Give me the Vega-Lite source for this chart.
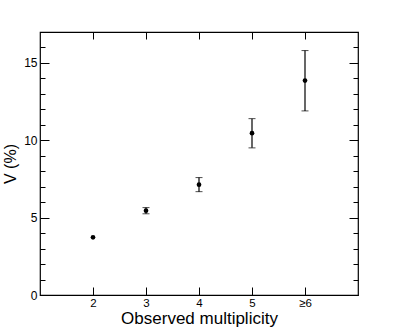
{
  "$schema": "https://vega.github.io/schema/vega-lite/v6.json",
  "width": 318,
  "height": 263,
  "autosize": "none",
  "padding": {"left": 40, "top": 32, "right": 41, "bottom": 33},
  "background": "white",
  "config": {
    "view": {"stroke": "black", "strokeWidth": 1.2},
    "font": "Liberation Sans",
    "axis": {"domain": false, "grid": false, "tickColor": "black", "labelColor": "black", "titleColor": "black", "labelFont": "Liberation Sans", "titleFont": "Liberation Sans", "titleFontWeight": "normal"}
  },
  "data": {
    "values": [
      {"m": 2, "v": 3.73, "lo": null, "hi": null},
      {"m": 3, "v": 5.45, "lo": 5.25, "hi": 5.65},
      {"m": 4, "v": 7.13, "lo": 6.68, "hi": 7.59},
      {"m": 5, "v": 10.46, "lo": 9.51, "hi": 11.4},
      {"m": 6, "v": 13.86, "lo": 11.9, "hi": 15.8}
    ]
  },
  "resolve": {"axis": {"x": "independent", "y": "independent"}},
  "layer": [
    {
      "transform": [{"filter": "datum.lo != null"}],
      "mark": {"type": "errorbar", "ticks": {"size": 7, "color": "black", "strokeWidth": 1.2}, "rule": {"color": "black", "strokeWidth": 1.2}},
      "encoding": {
        "x": {"field": "m", "type": "quantitative", "scale": {"domain": [1, 7], "nice": false, "zero": false},
          "axis": {"orient": "top", "title": null, "labels": false, "values": [2, 3, 4, 5, 6], "tickSize": -7}},
        "y": {"field": "lo", "type": "quantitative", "scale": {"domain": [0, 17], "nice": false},
          "axis": {"orient": "right", "title": null, "labels": false, "values": [0,1,2,3,4,5,6,7,8,9,10,11,12,13,14,15,16,17],
            "tickSize": {"condition": {"test": "datum.value % 5 === 0", "value": -9}, "value": -5}}},
        "y2": {"field": "hi"}
      }
    },
    {
      "mark": {"type": "point", "filled": true, "color": "black", "opacity": 1, "size": 22},
      "encoding": {
        "x": {"field": "m", "type": "quantitative", "scale": {"domain": [1, 7], "nice": false, "zero": false},
          "axis": {"orient": "bottom", "title": "Observed multiplicity", "titleFontSize": 17, "titlePadding": 2, "labelFontSize": 11.5, "labelPadding": 10, "values": [2, 3, 4, 5, 6], "tickSize": -8,
            "labelColor": "black",
            "labelExpr": "datum.value == 6 ? '≥6' : datum.label"}},
        "y": {"field": "v", "type": "quantitative", "scale": {"domain": [0, 17], "nice": false},
          "axis": {"orient": "left", "title": "V (%)", "titleFontSize": 16, "titlePadding": 5, "labelFontSize": 12, "labelPadding": 12,
            "labelColor": "black",
            "values": [0,1,2,3,4,5,6,7,8,9,10,11,12,13,14,15,16,17],
            "labelExpr": "datum.value % 5 === 0 ? datum.label : ''",
            "tickSize": {"condition": {"test": "datum.value % 5 === 0", "value": -9}, "value": -5}}}
      }
    }
  ]
}
